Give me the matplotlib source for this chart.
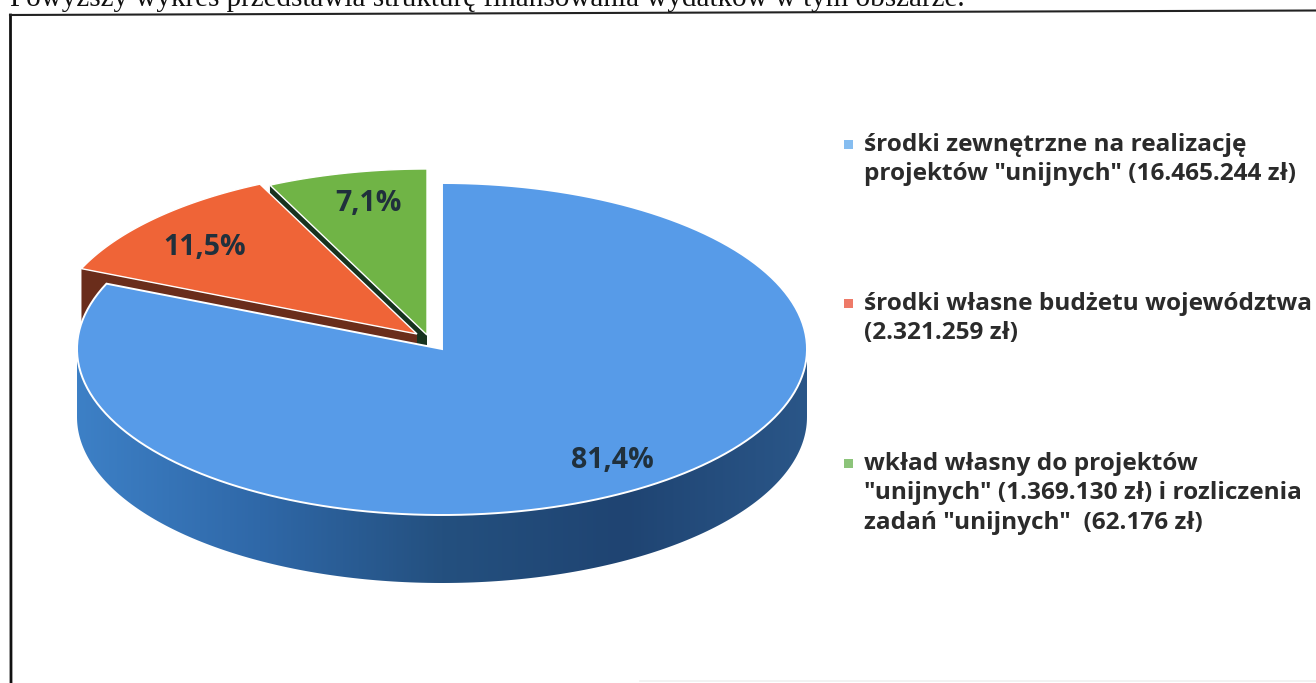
import numpy as np
import matplotlib
matplotlib.use("Agg")
import matplotlib.pyplot as plt
from matplotlib.patches import Polygon, Rectangle
from matplotlib.colors import LinearSegmentedColormap

caption = "Powyższy wykres przedstawia strukturę finansowania wydatków w tym obszarze."
categories = [
    'środki zewnętrzne na realizację\nprojektów "unijnych" (16.465.244 zł)',
    'środki własne budżetu województwa\n(2.321.259 zł)',
    'wkład własny do projektów\n"unijnych" (1.369.130 zł) i rozliczenia\nzadań "unijnych"  (62.176 zł)',
]
values = [16465244, 2321259, 1369130 + 62176]
top_colors = ["#579be8", "#ef6437", "#70b446"]
cut_colors = ["#2f6cb0", "#6a2d1b", "#17331f"]
legend_colors = ["#86bdf0", "#ee7a68", "#8cc47a"]
legend_y = [144, 303, 463]
label_pos = [(612, 460.5), (205, 247.5), (368, 203.5)]
offsets = [(0, 0), (-25, -15), (-15, -14)]

CX, CY, A, B, DEPTH = 442, 349, 365, 166, 68

fig = plt.figure(figsize=(13.16, 6.83), dpi=100)
ax = fig.add_axes([0, 0, 1, 1])
ax.set_xlim(0, 1316)
ax.set_ylim(683, 0)
ax.axis("off")

total = sum(values)
fr = np.cumsum([0] + values) / total * 2 * np.pi


def rim(t0, t1, off, n=160):
    t = np.linspace(t0, t1, n)
    return np.column_stack([CX + off[0] + A * np.sin(t), CY + off[1] - B * np.cos(t)])


def top_poly(i):
    apex = np.array([[CX + offsets[i][0], CY + offsets[i][1]]])
    return np.vstack([apex, rim(fr[i], fr[i + 1], offsets[i])])


down = np.array([0, DEPTH])

# back slices: cut faces, then tops
for i in (2, 1):
    p = top_poly(i)
    edge = p[:2]
    face = np.vstack([edge, edge[::-1] + down])
    ax.add_patch(Polygon(face, closed=True, fc=cut_colors[i], ec="none", zorder=2 + (2 - i)))
    ax.add_patch(Polygon(p, closed=True, fc=top_colors[i], ec="white", lw=1.0, zorder=2.5 + (2 - i)))

# front slice side with horizontal shading
t_front = np.linspace(np.pi / 2, 3 * np.pi / 2, 200)
upper = np.column_stack([CX + A * np.sin(t_front), CY - B * np.cos(t_front)])
side = np.vstack([upper, upper[::-1] + down])
side_patch = Polygon(side, closed=True, fc="none", ec="none", transform=ax.transData)
ax.add_patch(side_patch)
shade = LinearSegmentedColormap.from_list(
    "side", ["#2a5688", "#1f4472", "#24507f", "#2f68a8", "#3d80c6"])
im = ax.imshow(np.linspace(0, 1, 256)[None, :], cmap=shade, aspect="auto",
               extent=(CX + A, CX - A, 683, 0), zorder=5)
im.set_clip_path(side_patch)
ax.set_xlim(0, 1316)
ax.set_ylim(683, 0)

ax.add_patch(Polygon(top_poly(0), closed=True, fc=top_colors[0], ec="white", lw=1.4, zorder=6))

# data labels
for v, (x, y) in zip(values, label_pos):
    ax.text(x, y, f"{v / total * 100:.1f}%".replace(".", ","), ha="center", va="center",
            fontsize=20.5, fontweight="bold", family="Open Sans", color="#20303c", zorder=7)

# legend
for c, col, y in zip(categories, legend_colors, legend_y):
    ax.add_patch(Rectangle((844, y - 4.5), 9, 9, fc=col, ec="none"))
    ax.text(864, y - 11, c, ha="left", va="top", fontsize=17.6, fontweight="bold",
            family="Open Sans", color="#2b2b2b", linespacing=1.3)

# document frame and caption
ax.plot([10.5, 11], [15, 683], color="#111111", lw=2.0)
ax.plot([10, 1316], [15, 10.5], color="#222222", lw=1.5)
ax.plot([640, 1316], [681, 681], color="#f0f0f0", lw=1.2)
ax.text(10, 6, caption, ha="left", va="baseline", fontsize=20.95,
        family="Liberation Serif", color="#111111", clip_on=True)

fig.savefig("out.png", dpi=100)
